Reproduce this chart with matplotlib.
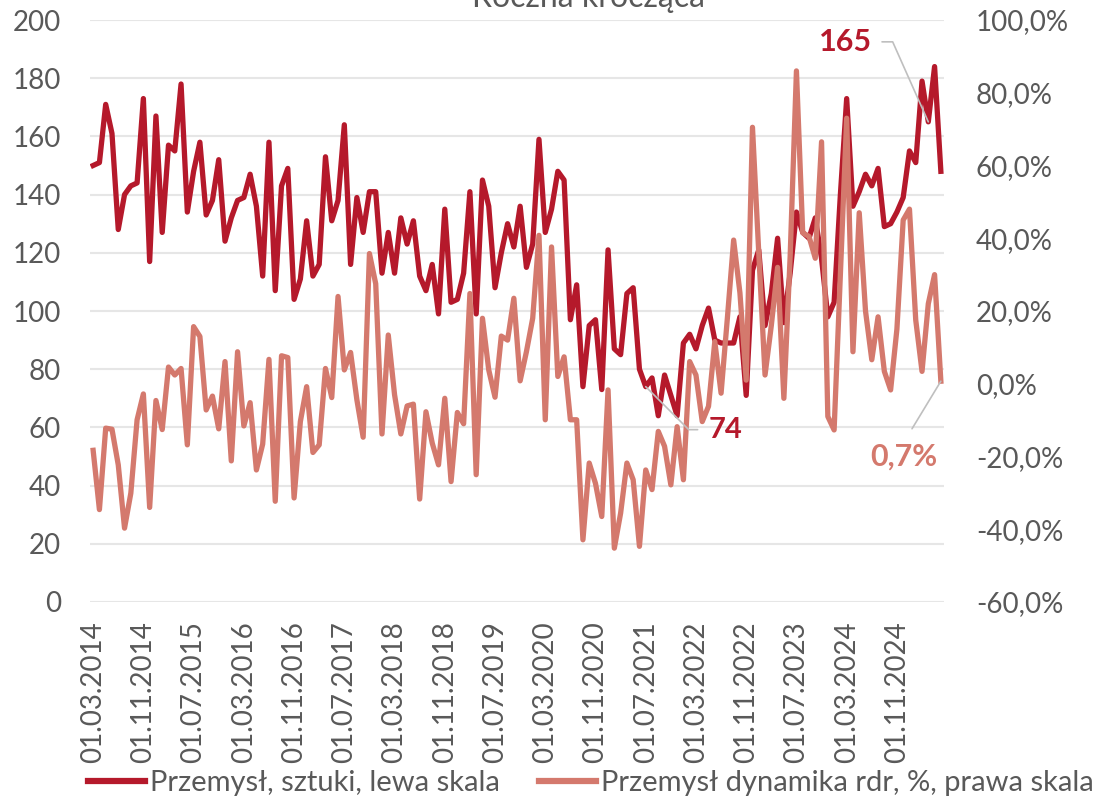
import pandas as pd
import matplotlib.pyplot as plt
from matplotlib.lines import Line2D

plt.rcParams['font.family'] = ['Lato', 'DejaVu Sans']

# miesiące od 03.2014 do 06.2025
dates = pd.date_range('2014-03-01', periods=136, freq='MS')

# Przemysł, sztuki (roczna krocząca) - lewa skala
sztuki = [
    150, 151, 171, 161, 128, 140, 143, 144, 173, 117,
    167, 127, 157, 155, 178, 134, 148, 158, 133, 138,
    152, 124, 132, 138, 139, 147, 136, 112, 158, 107,
    143, 149, 104, 111, 131, 112, 116, 153, 131, 138,
    164, 116, 139, 127, 141, 141, 113, 127, 113, 132,
    123, 131, 112, 107, 116, 99, 135, 103, 104, 113,
    141, 99, 145, 136, 108, 120, 130, 122, 136, 115,
    123, 159, 127, 135, 148, 145, 97, 109, 74, 95,
    97, 73, 121, 87, 85, 106, 108, 80, 74, 77,
    64, 78, 71, 64, 89, 92, 87, 95, 101, 90,
    89, 89, 89, 98, 71, 114, 121, 95, 106, 125,
    96, 113, 134, 127, 125, 132, 118, 98, 103, 140,
    173, 136, 141, 147, 143, 149, 129, 130, 134, 139,
    155, 151, 179, 165, 184, 148,
]

# Przemysł dynamika rdr, % - prawa skala
dynamika = [
    -18.3, -34.6, -12.2, -12.5, -22.3, -39.7, -30.1, -9.9, -2.8, -34.0,
    -4.6, -12.6, 4.6, 2.4, 4.2, -16.8, 15.7, 13.0, -7.2, -3.4,
    -12.4, 6.1, -21.2, 8.8, -11.6, -5.2, -23.7, -16.6, 6.7, -32.3,
    7.7, 7.2, -31.4, -10.4, -0.8, -18.9, -16.8, 4.2, -3.8, 24.0,
    3.8, 8.6, -4.4, -14.7, 35.8, 27.5, -13.8, 13.4, -3.0, -13.8,
    -6.1, -5.6, -31.7, -7.7, -16.3, -22.3, -4.0, -26.9, -7.9, -11.0,
    24.8, -25.0, 18.0, 3.8, -3.7, 13.1, 12.0, 23.5, 0.8, 8.8,
    18.0, 40.8, -9.9, 37.6, 2.0, 7.4, -9.9, -9.9, -42.9, -21.8,
    -27.4, -36.5, -1.7, -45.2, -35.6, -21.8, -26.4, -44.7, -23.7, -29.1,
    -13.1, -17.2, -27.8, -11.8, -26.4, 6.1, 2.4, -10.4, -6.2, 11.6,
    -2.6, 18.0, 39.5, 25.0, 1.0, 70.5, 36.0, 2.4, 16.0, 32.0,
    -4.0, 35.0, 86.0, 41.5, 40.5, 34.5, 66.5, -9.0, -12.7, 30.0,
    73.0, 8.8, 47.0, 20.0, 6.6, 18.4, 3.4, -1.7, 15.0, 45.0,
    48.0, 17.5, 3.4, 22.0, 30.0, 0.7,
]

etykiety = [d.strftime('%d.%m.%Y') for d in dates]
x = list(range(len(dates)))

red = '#B5192B'
pink = '#D4796D'
grey_txt = '#595959'
grey_line = '#BFBFBF'

W, H = 1101, 809
fig = plt.figure(figsize=(W / 100, H / 100), dpi=100)
ax = fig.add_axes([90 / W, 1 - 602 / H, (944 - 90) / W, (602 - 20) / H])
ax2 = ax.twinx()

ax.plot(x, sztuki, color=red, lw=3.8, solid_joinstyle='round')
ax2.plot(x, dynamika, color=pink, lw=3.8, solid_joinstyle='round')

ax.set_xlim(-0.5, len(x) - 0.5)
ax.set_ylim(0, 200)
ax2.set_ylim(-60, 100)
ax.set_yticks(range(0, 201, 20))
ax2.set_yticks(range(-60, 101, 20))
ax2.set_yticklabels([f'{v:.1f}%'.replace('.', ',') for v in range(-60, 101, 20)])
ax.set_xticks(x[::8])
ax.set_xticklabels(etykiety[::8], rotation=90)

ax.yaxis.grid(True, color='#E6E6E6', lw=1.5)
ax.set_axisbelow(True)
for a in (ax, ax2):
    for s in a.spines.values():
        s.set_visible(False)
ax.tick_params(axis='y', length=0, pad=21, labelsize=20, labelcolor=grey_txt)
ax.tick_params(axis='x', length=0, pad=14, labelsize=20, labelcolor=grey_txt)
ax2.tick_params(axis='y', length=0, pad=23, labelsize=20, labelcolor=grey_txt)

# podpisy wartości z liniami odniesienia
i_max = 133
ax2.annotate(f'{sztuki[i_max]}', xy=(i_max, sztuki[i_max]), xycoords=ax.transData,
             xytext=(-56, 80), textcoords='offset pixels', ha='right', va='center',
             fontsize=22, fontweight='bold', color=red,
             arrowprops=dict(arrowstyle='-', color=grey_line, lw=1.2, shrinkA=5, shrinkB=0,
                             relpos=(1, 0.5),
                             connectionstyle='angle,angleA=0,angleB=114,rad=0'))
i_min = 88
ax2.annotate(f'{sztuki[i_min]}', xy=(i_min, sztuki[i_min]), xycoords=ax.transData,
             xytext=(63, -43), textcoords='offset pixels', ha='left', va='center',
             fontsize=21, fontweight='bold', color=red,
             arrowprops=dict(arrowstyle='-', color=grey_line, lw=1.2, shrinkA=6, shrinkB=0,
                             relpos=(0, 0.5),
                             connectionstyle='angle,angleA=0,angleB=-45,rad=0'))
i_last = len(dynamika) - 1
ax2.annotate(f'{dynamika[i_last]:.1f}%'.replace('.', ','), xy=(i_last, dynamika[i_last]),
             xytext=(-37, -75), textcoords='offset pixels', ha='center', va='center',
             fontsize=22, fontweight='bold', color=pink,
             arrowprops=dict(arrowstyle='-', color=grey_line, lw=1.2, shrinkA=9, shrinkB=0,
                             relpos=(0.5, 1)))

fig.text(589 / W, 1 - 7 / H, 'Roczna krocząca', ha='center', va='baseline',
         fontsize=23, color=grey_txt)

uchwyty = [Line2D([], [], color=red, lw=4.5), Line2D([], [], color=pink, lw=4.5)]
fig.legend(uchwyty, ['Przemysł, sztuki, lewa skala', 'Przemysł dynamika rdr, %, prawa skala'],
           loc='center', bbox_to_anchor=(591 / W, 26 / H), ncol=2, frameon=False,
           fontsize=21, labelcolor=grey_txt, handlelength=1.95, handletextpad=0.17,
           columnspacing=1.35)

fig.savefig('out.png', dpi=100)
